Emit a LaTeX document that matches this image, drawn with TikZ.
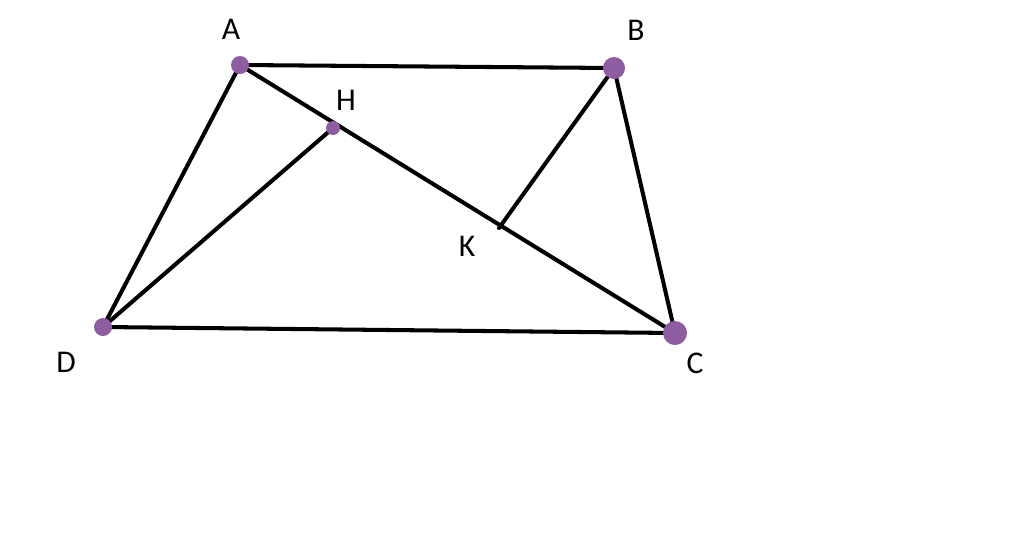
\documentclass[tikz,border=0pt]{standalone}
\usepackage{fontspec}
\setmainfont{Carlito}
\usepackage{tikz}
\usetikzlibrary{positioning}
\definecolor{viola}{RGB}{142,92,160}
\tikzset{lato/.style={line width=2.3pt, line cap=round}}
\tikzset{punto/.style={circle,fill=viola,draw=none,inner sep=0pt,minimum size=#1}}
\tikzset{etich/.style={draw=none,fill=none,font=\fontsize{18}{20}\selectfont}}

\begin{document}
\begin{tikzpicture}[
                x = 0.02cm, y = -0.02cm
            ]
                \useasboundingbox (0,0) rectangle (1024,538);
                \coordinate (A) at (240,65);
                \coordinate (B) at (614,68);
                \coordinate (C) at (675,333);
                \coordinate (D) at (103,327);
                \coordinate (H) at (333,128);
                \coordinate (K) at (499,228);

                \draw[lato] (A) -- (B) -- (C) -- (D) -- cycle;
                \draw[lato] (A) -- (C);
                \draw[lato] (D) -- (H);
                \draw[lato] (B) -- (K);

                \node[punto=18*0.02cm] (pA) at (A) {};
                \node[punto=22*0.02cm] (pB) at (B) {};
                \node[punto=24*0.02cm] (pC) at (C) {};
                \node[punto=18*0.02cm] (pD) at (D) {};
                \node[punto=14*0.02cm] (pH) at (H) {};

                \node[etich] (lA) at (231,29) {A};
                \node[etich] (lB) at (636,30) {B};
                \node[etich] (lC) at (695,363) {C};
                \node[etich] (lD) at (66,362) {D};
                \node[etich] (lH) at (346,100) {H};
                \node[etich] (lK) at (467,246) {K};
            \end{tikzpicture}
\end{document}
